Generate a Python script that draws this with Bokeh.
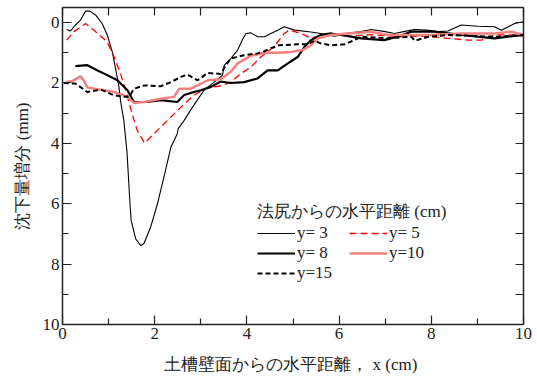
from bokeh.plotting import figure
from bokeh.models import (FixedTicker, LinearAxis, Legend, LegendItem, Range1d)
from bokeh.embed import file_html
from bokeh.resources import INLINE

# ---- data ----
x3 = [0.09, 0.17, 0.28, 0.39, 0.5, 0.59, 0.72, 0.86, 0.97, 1.08, 1.15, 1.22, 1.26, 1.33, 1.40, 1.46, 1.49, 1.59,
      1.70, 1.77, 1.91, 2.06, 2.2, 2.35, 2.49, 2.51, 2.64, 2.82, 3.07, 3.29, 3.47, 3.51, 3.65, 3.8, 3.9, 3.98,
      4.09, 4.23, 4.38, 4.52, 4.67, 4.81, 5.03, 5.39, 5.6, 5.9, 6.2, 6.48, 6.7, 7.0, 7.2, 7.4, 7.63, 7.9, 8.14,
      8.36, 8.65, 9.01, 9.37, 9.52, 9.81, 10.0]
y3 = [0.23, 0.28, 0.08, -0.08, -0.38, -0.38, -0.25, 0.03, 0.41, 0.97, 1.52, 2.08, 2.6, 3.24, 4.3, 5.9, 6.56, 7.17,
      7.39, 7.31, 6.78, 6.0, 5.12, 4.13, 3.68, 3.51, 3.24, 2.8, 2.24, 1.97, 1.74, 1.41, 1.19, 0.91, 0.58, 0.36,
      0.34, 0.47, 0.47, 0.36, 0.25, 0.14, 0.25, 0.31, 0.36, 0.45, 0.35, 0.3, 0.23, 0.3, 0.36, 0.3, 0.23, 0.25, 0.3,
      0.28, 0.08, 0.12, 0.14, 0.25, 0.03, -0.03]

x5 = [0.09, 0.25, 0.5, 0.68, 0.97, 1.12, 1.26, 1.41, 1.51, 1.62, 1.78, 2.06, 2.28, 2.57, 2.85, 3.15, 3.43, 3.65,
      3.87, 4.09, 4.3, 4.59, 4.81, 4.92, 5.17, 5.39, 5.75, 6.2, 6.7, 7.35, 7.9, 8.36, 8.8, 9.09, 9.37, 9.8, 10.0]
y5 = [0.58, 0.3, 0.03, 0.25, 0.64, 1.14, 1.69, 2.46, 3.02, 3.57, 3.99, 3.57, 3.24, 2.8, 2.4, 2.15, 2.1, 1.97,
      1.69, 1.47, 1.14, 0.8, 0.36, 0.25, 0.36, 0.52, 0.36, 0.45, 0.4, 0.47, 0.45, 0.52, 0.58, 0.58, 0.41, 0.41, 0.45]

x8 = [0.28, 0.54, 0.75, 0.97, 1.19, 1.41, 1.55, 1.84, 2.13, 2.49, 2.64, 2.85, 3.0, 3.22, 3.43, 3.65, 3.94, 4.23,
      4.45, 4.67, 4.88, 5.1, 5.25, 5.39, 5.6, 5.83, 6.04, 6.48, 6.98, 7.3, 7.57, 8.07, 8.65, 9.37, 10.0]
y8 = [1.44, 1.41, 1.58, 1.74, 1.91, 2.24, 2.63, 2.63, 2.57, 2.63, 2.4, 2.3, 2.24, 2.13, 1.95, 2.0, 1.97, 1.85,
      1.58, 1.58, 1.36, 1.14, 0.8, 0.58, 0.41, 0.36, 0.41, 0.52, 0.58, 0.45, 0.3, 0.3, 0.41, 0.52, 0.41]

x10 = [0.07, 0.21, 0.39, 0.46, 0.54, 0.83, 1.12, 1.41, 1.55, 1.77, 2.13, 2.42, 2.53, 2.78, 2.93, 3.15, 3.43, 3.65,
       3.8, 4.09, 4.38, 4.67, 4.96, 5.21, 5.39, 5.54, 5.83, 6.19, 6.7, 7.06, 7.93, 8.65, 9.37, 9.74, 10.0]
y10 = [1.97, 1.94, 1.78, 1.91, 2.15, 2.22, 2.3, 2.46, 2.66, 2.63, 2.52, 2.46, 2.19, 2.19, 2.08, 1.91, 1.88, 1.63,
       1.35, 1.1, 1.0, 1.0, 0.97, 0.91, 0.75, 0.52, 0.41, 0.36, 0.3, 0.41, 0.41, 0.36, 0.36, 0.3, 0.41]

x15 = [0.03, 0.28, 0.54, 0.83, 1.12, 1.33, 1.45, 1.55, 1.77, 2.13, 2.35, 2.57, 2.71, 2.93, 3.15, 3.43, 3.55, 3.65,
       3.94, 4.23, 4.38, 4.52, 4.7, 5.1, 5.32, 5.46, 5.6, 5.83, 6.12, 6.33, 6.48, 7.06, 7.57, 7.64, 7.93, 8.36,
       9.37, 10.0]
y15 = [2.0, 2.02, 2.3, 2.22, 2.41, 2.46, 2.45, 2.19, 2.08, 2.11, 1.97, 1.8, 1.72, 1.91, 1.67, 1.7, 1.4, 1.19,
       1.08, 1.02, 0.95, 0.85, 0.75, 0.72, 0.72, 0.6, 0.69, 0.75, 0.72, 0.58, 0.47, 0.52, 0.47, 0.6, 0.47, 0.41,
       0.47, 0.41]

labels = ["y= 3", "y= 5", "y= 8", "y=10", "y=15"]
legend_title = "法尻からの水平距離 (cm)"
x_label = "土槽壁面からの水平距離，  x (cm)"
y_label = "沈下量増分 (mm)"
x_major = [0, 2, 4, 6, 8, 10]
x_minor = [1, 3, 5, 7, 9]
y_major = [0, 2, 4, 6, 8, 10]
y_minor = [1, 3, 5, 7, 9]

SERIF = "serif"

p = figure(width=537, height=379, output_backend="svg", toolbar_location=None,
           x_range=Range1d(0, 10), y_range=Range1d(10, -0.5),
           min_border_left=62, min_border_right=14, min_border_top=7, min_border_bottom=55)
p.background_fill_color = "white"
p.border_fill_color = "white"
p.outline_line_color = None
p.grid.visible = False

def style_axis(ax, labels_on=True, major_in=8, minor_in=5):
    ax.axis_line_color = "#222222"
    ax.axis_line_width = 1.5
    ax.major_tick_line_color = "#222222"
    ax.minor_tick_line_color = "#222222"
    ax.major_tick_line_width = 1.2
    ax.minor_tick_line_width = 1.2
    ax.major_tick_in = major_in
    ax.major_tick_out = 0
    ax.minor_tick_in = minor_in
    ax.minor_tick_out = 0
    ax.major_label_text_font = SERIF
    ax.major_label_text_font_size = "17px"
    ax.major_label_text_color = "#222222"
    ax.major_label_standoff = 3
    if not labels_on:
        ax.major_label_text_alpha = 0
        ax.major_label_text_font_size = "1px"

xa = p.xaxis[0]
xa.ticker = FixedTicker(ticks=x_major, minor_ticks=x_minor)
style_axis(xa, major_in=9, minor_in=6)
xa.axis_label = x_label
xa.axis_label_text_font = SERIF
xa.axis_label_text_font_size = "17px"
xa.axis_label_text_font_style = "normal"
xa.axis_label_text_color = "#222222"
xa.axis_label_standoff = 13

ya = p.yaxis[0]
ya.ticker = FixedTicker(ticks=y_major, minor_ticks=y_minor)
style_axis(ya, major_in=9, minor_in=6)
ya.axis_label = y_label
ya.axis_label_text_font = SERIF
ya.axis_label_text_font_size = "17px"
ya.axis_label_text_font_style = "normal"
ya.axis_label_text_color = "#222222"
ya.axis_label_standoff = 8

top = LinearAxis(ticker=FixedTicker(ticks=list(range(0, 11))))
style_axis(top, labels_on=False, major_in=8)
p.add_layout(top, "above")
right = LinearAxis(ticker=FixedTicker(ticks=list(range(0, 11))))
style_axis(right, labels_on=False, major_in=8)
p.add_layout(right, "right")

r3 = p.line(x3, y3, line_color="black", line_width=1.1)
r5 = p.line(x5, y5, line_color="#ff0000", line_width=1.3, line_dash="7 4")
r8 = p.line(x8, y8, line_color="black", line_width=2.2)
r10 = p.line(x10, y10, line_color="#f58080", line_width=2.5)
r15 = p.line(x15, y15, line_color="black", line_width=2.0, line_dash="5 3")

# column-major layout: first column 3, 8, 15; second column 5, 10
legend = Legend(items=[LegendItem(label=labels[0], renderers=[r3]),
                       LegendItem(label=labels[2], renderers=[r8]),
                       LegendItem(label=labels[4], renderers=[r15]),
                       LegendItem(label=labels[1], renderers=[r5]),
                       LegendItem(label=labels[3], renderers=[r10])],
                ncols=2, location=(195, 41), title=legend_title)
legend.title_text_font = SERIF
legend.title_text_font_size = "17px"
legend.title_text_font_style = "normal"
legend.title_text_color = "#222222"
legend.title_standoff = 0
legend.label_text_font = SERIF
legend.label_text_font_size = "17px"
legend.label_text_color = "#222222"
legend.label_standoff = 2
legend.label_width = 52
legend.label_height = 18
legend.glyph_width = 38
legend.glyph_height = 18
legend.spacing = 0
legend.padding = 0
legend.margin = 0
legend.border_line_alpha = 0
legend.background_fill_alpha = 0
p.add_layout(legend, "center")

open("out.html", "w").write(file_html(p, INLINE))
